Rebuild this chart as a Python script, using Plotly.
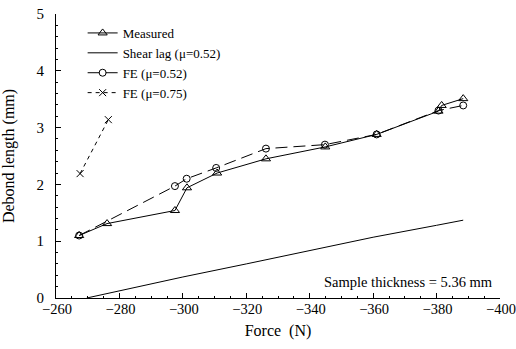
import plotly.graph_objects as go

meas_x = [-267.3, -276.1, -297.5, -301.3, -310.8, -326.2, -344.9, -361.1, -380.6, -381.6, -388.4]
meas_y = [1.10, 1.31, 1.54, 1.94, 2.20, 2.45, 2.66, 2.88, 3.29, 3.39, 3.51]

shear_x = [-269.7, -300, -320, -340, -360, -380, -388.4]
shear_y = [0.0, 0.37, 0.60, 0.84, 1.07, 1.28, 1.37]

fe52_x = [-267.3, -297.5, -301.2, -310.5, -326.2, -344.8, -361.1, -380.6, -388.4]
fe52_y = [1.10, 1.97, 2.10, 2.29, 2.63, 2.70, 2.88, 3.30, 3.39]

fe75_x = [-267.6, -276.5]
fe75_y = [2.19, 3.14]

FONT = "serif"

fig = go.Figure()
fig.add_trace(go.Scatter(x=meas_x, y=meas_y, name="Measured", mode="lines+markers",
                         line=dict(color="black", width=1),
                         marker=dict(symbol="triangle-up-open", size=8, color="black", line=dict(width=1))))
fig.add_trace(go.Scatter(x=shear_x, y=shear_y, name="Shear lag (\u03bc=0.52)", mode="lines",
                         line=dict(color="black", width=1)))
fig.add_trace(go.Scatter(x=fe52_x, y=fe52_y, name="FE (\u03bc=0.52)", mode="lines+markers",
                         line=dict(color="black", width=1, dash="12px,6px"),
                         marker=dict(symbol="circle-open", size=7, color="black", line=dict(width=1))))
fig.add_trace(go.Scatter(x=fe75_x, y=fe75_y, name="FE (\u03bc=0.75)", mode="lines+markers",
                         line=dict(color="black", width=1, dash="4px,4px"),
                         marker=dict(symbol="x-thin-open", size=7, color="black", line=dict(width=1, color="black"))))

fig.add_annotation(x=1.0, xref="paper", xanchor="right", y=0.28, yref="y", yanchor="middle",
                   xshift=-5, text="Sample thickness = 5.36 mm", showarrow=False,
                   font=dict(family=FONT, size=14.5, color="black"))

axis_common = dict(showline=True, linecolor="black", linewidth=1, showgrid=False, zeroline=False,
                   ticks="inside", ticklen=5, tickcolor="black", tickwidth=1, automargin=False,
                   ticklabeloverflow="allow", mirror=False)

fig.update_xaxes(range=[-260, -400], dtick=20, tick0=-260,
                 tickfont=dict(family=FONT, size=14.5, color="black"),
                 title=dict(text="Force  (N)", font=dict(family=FONT, size=16, color="black"), standoff=8),
                 minor=dict(ticks="inside", ticklen=2, dtick=5, tickcolor="black"),
                 ticklabelstandoff=-2, ticklabelshift=-1, **axis_common)
fig.update_yaxes(range=[0, 5], dtick=1,
                 tickfont=dict(family=FONT, size=15, color="black"),
                 title=dict(text="Debond length (mm)", font=dict(family=FONT, size=16, color="black"), standoff=18),
                 minor=dict(ticks="inside", ticklen=2, dtick=0.2, tickcolor="black"),
                 ticklabelstandoff=8, **axis_common)

fig.update_layout(width=516, height=349, margin=dict(l=56, r=16, t=14, b=51, autoexpand=False),
                  plot_bgcolor="white", paper_bgcolor="white",
                  font=dict(family=FONT, color="black"),
                  legend=dict(x=0.06, y=0.986, xanchor="left", yanchor="top", bgcolor="rgba(0,0,0,0)",
                              font=dict(family=FONT, size=13, color="black"),
                              tracegroupgap=0, itemwidth=30),
                  showlegend=True)

fig.write_html("out.html", config={"displayModeBar": False},
               post_script="document.body.style.margin='0';")
